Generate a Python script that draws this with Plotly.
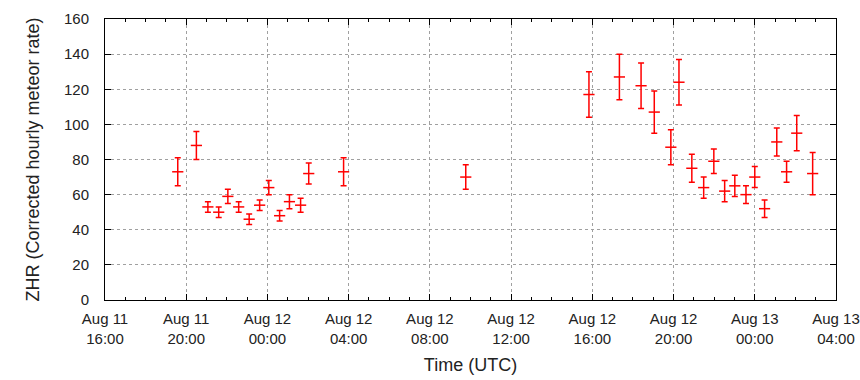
import plotly.graph_objects as go

# Observation times (UTC) and ZHR values with symmetric uncertainties
times = [
    "2016-08-11 19:35", "2016-08-11 20:30", "2016-08-11 21:04", "2016-08-11 21:36",
    "2016-08-11 22:03", "2016-08-11 22:35", "2016-08-11 23:06", "2016-08-11 23:37",
    "2016-08-12 00:04", "2016-08-12 00:36", "2016-08-12 01:05", "2016-08-12 01:38",
    "2016-08-12 02:02", "2016-08-12 03:45", "2016-08-12 09:46",
    "2016-08-12 15:50", "2016-08-12 17:20", "2016-08-12 18:24", "2016-08-12 19:03",
    "2016-08-12 19:52", "2016-08-12 20:16", "2016-08-12 20:54", "2016-08-12 21:29",
    "2016-08-12 21:59", "2016-08-12 22:31", "2016-08-12 23:01", "2016-08-12 23:34",
    "2016-08-13 00:00", "2016-08-13 00:29", "2016-08-13 01:05", "2016-08-13 01:34",
    "2016-08-13 02:04", "2016-08-13 02:51",
]
zhr = [
    73, 88, 53, 50, 59, 53, 46, 54, 64, 48, 56, 54, 72, 73, 70,
    117, 127, 122, 107, 87, 124, 75, 64, 79, 62, 65, 60, 70, 52, 90, 73, 95, 72,
]
zhr_err = [
    8, 8, 3, 3, 4, 3, 3, 3, 4, 3, 4, 4, 6, 8, 7,
    13, 13, 13, 12, 10, 13, 8, 6, 7, 6, 6, 5, 6, 5, 8, 6, 10, 12,
]

x_range = ["2016-08-11 16:00", "2016-08-13 04:00"]
x_tickvals = [
    "2016-08-11 16:00", "2016-08-11 20:00", "2016-08-12 00:00", "2016-08-12 04:00",
    "2016-08-12 08:00", "2016-08-12 12:00", "2016-08-12 16:00", "2016-08-12 20:00",
    "2016-08-13 00:00", "2016-08-13 04:00",
]
x_ticktext = [
    "Aug 11<br>16:00", "Aug 11<br>20:00", "Aug 12<br>00:00", "Aug 12<br>04:00",
    "Aug 12<br>08:00", "Aug 12<br>12:00", "Aug 12<br>16:00", "Aug 12<br>20:00",
    "Aug 13<br>00:00", "Aug 13<br>04:00",
]
y_ticks = [0, 20, 40, 60, 80, 100, 120, 140, 160]

red = "#ff0000"
fig = go.Figure()
fig.add_trace(go.Scatter(
    x=times, y=zhr, mode="markers",
    marker=dict(symbol="line-ew", size=8, color=red, line=dict(color=red, width=1.5)),
    error_y=dict(type="data", array=zhr_err, visible=True, color=red, thickness=1.5, width=3),
    showlegend=False,
))

font_family = "Liberation Sans, Arial, sans-serif"
grid = dict(showgrid=True, gridcolor="#a0a0a0", griddash="dot", gridwidth=1)

fig.update_layout(
    width=860, height=380,
    margin=dict(l=105, r=24, t=19, b=80),
    paper_bgcolor="white", plot_bgcolor="white",
    font=dict(family=font_family, size=15, color="#222"),
    xaxis=dict(
        type="date", range=x_range, automargin=False,
        tickvals=x_tickvals, ticktext=x_ticktext,
        ticklabeloverflow="allow", ticklabelstandoff=5,
        ticks="inside", ticklen=6, tickcolor="black",
        minor=dict(dtick=3600 * 1000, tick0="2016-08-11 16:00", ticks="inside",
                   ticklen=3, tickcolor="black", showgrid=False),
        showline=True, linecolor="black", linewidth=1, mirror="ticks",
        title=dict(text="Time (UTC)", standoff=12),
        zeroline=False, **grid,
    ),
    yaxis=dict(
        range=[0, 160], tickvals=y_ticks, automargin=False,
        ticklabelstandoff=12,
        ticks="inside", ticklen=6, tickcolor="black",
        showline=True, linecolor="black", linewidth=1, mirror="ticks",
        title=dict(text="ZHR (Corrected hourly meteor rate)", standoff=19),
        zeroline=False, **grid,
    ),
)

# Remove the browser's default 8px body margin so the 860x380 figure fills the window.
fig.write_html(
    "out.html",
    config={"displayModeBar": False},
    post_script="document.body.style.margin='0';",
)
